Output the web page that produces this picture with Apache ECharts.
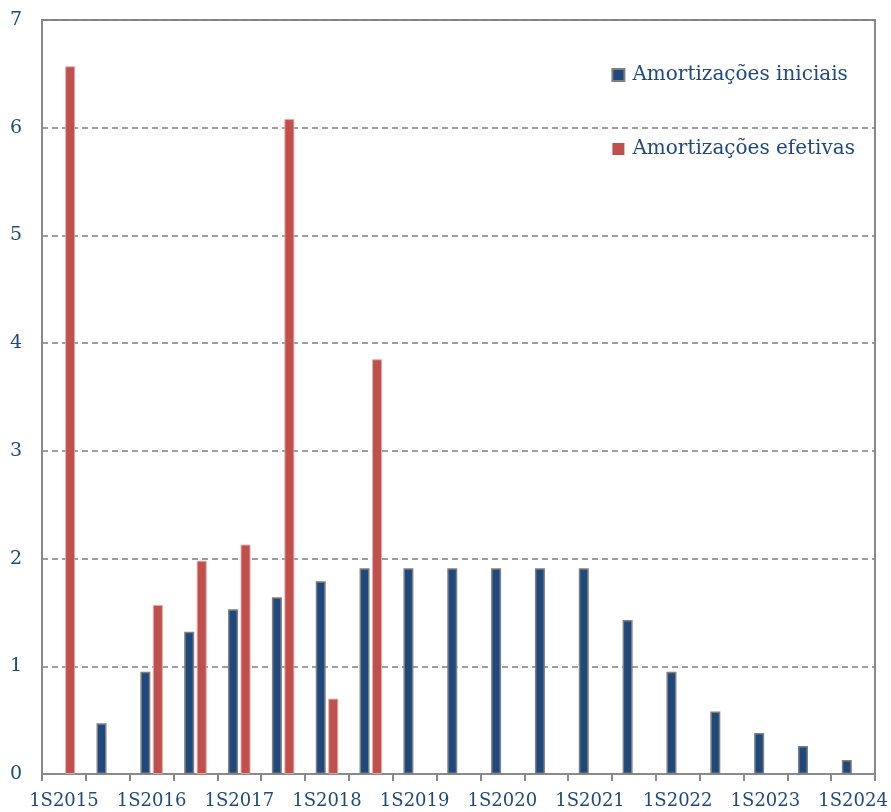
<!DOCTYPE html>
<html>
<head>
<meta charset="utf-8">
<script src="https://cdn.jsdelivr.net/npm/echarts@6/dist/echarts.min.js"></script>
<style>
  html, body { margin: 0; padding: 0; background: #fff; }
  #chart { width: 891px; height: 812px; }
</style>
</head>
<body>
<div id="chart"></div>
<script>
// Semesters 1S2015 .. 1S2024
const categories = [
  '1S2015', '2S2015', '1S2016', '2S2016', '1S2017', '2S2017', '1S2018', '2S2018',
  '1S2019', '2S2019', '1S2020', '2S2020', '1S2021', '2S2021', '1S2022', '2S2022',
  '1S2023', '2S2023', '1S2024'
];
const amortizacoesIniciais = [
  0, 0.47, 0.95, 1.32, 1.53, 1.64, 1.79, 1.91,
  1.91, 1.91, 1.91, 1.91, 1.91, 1.43, 0.95, 0.58,
  0.38, 0.26, 0.13
];
const amortizacoesEfetivas = [
  6.57, 0, 1.57, 1.98, 2.13, 6.08, 0.70, 3.85,
  0, 0, 0, 0, 0, 0, 0, 0,
  0, 0, 0
];
const yTicks = [0, 1, 2, 3, 4, 5, 6, 7];

const textColor = '#1F497D';
const fontFamily = '"DejaVu Serif", "Liberation Serif", serif';
const axisGray = '#8a8a8a';

// Empty semesters are left without a bar (no outline on the baseline)
const asBars = (values) => values.map(v => (v === 0 ? null : v));

const chart = echarts.init(document.getElementById('chart'), null, { renderer: 'canvas' });

chart.setOption({
  animation: false,
  backgroundColor: '#ffffff',
  grid: {
    left: 42, right: 16, top: 20, bottom: 38,
    show: true, borderColor: axisGray, borderWidth: 2,
    containLabel: false
  },
  legend: {
    orient: 'vertical',
    right: 31, top: 60,
    itemWidth: 12, itemHeight: 12,
    itemGap: 54,
    icon: 'rect',
    textStyle: { color: textColor, fontFamily: fontFamily, fontSize: 20, padding: [0, 0, 0, 3] },
    data: [
      { name: 'Amortizações iniciais', itemStyle: { color: '#1F497D', borderColor: '#7f7f7f', borderWidth: 2 } },
      { name: 'Amortizações efetivas', itemStyle: { color: '#C0504D', borderWidth: 0 } }
    ]
  },
  xAxis: {
    type: 'category',
    data: categories,
    boundaryGap: true,
    axisLine: { lineStyle: { color: axisGray, width: 2 } },
    axisTick: { show: true, interval: 0, length: 7, lineStyle: { color: axisGray, width: 2 } },
    axisLabel: {
      interval: 1,
      margin: 18,
      color: textColor, fontFamily: fontFamily, fontSize: 18
    },
    splitLine: { show: false }
  },
  yAxis: {
    type: 'value',
    min: yTicks[0],
    max: yTicks[yTicks.length - 1],
    interval: 1,
    axisLine: { show: true, lineStyle: { color: axisGray, width: 2 } },
    axisTick: { show: false },
    axisLabel: {
      margin: 20,
      color: textColor, fontFamily: fontFamily, fontSize: 19
    },
    splitLine: { show: true, lineStyle: { color: '#7f7f7f', width: 1.5, type: [6, 4] } }
  },
  series: [
    {
      name: 'Amortizações iniciais',
      type: 'bar',
      data: asBars(amortizacoesIniciais),
      barWidth: 10,
      barGap: '25%',
      itemStyle: { color: '#1F497D', borderColor: '#808080', borderWidth: 1.5 }
    },
    {
      name: 'Amortizações efetivas',
      type: 'bar',
      data: asBars(amortizacoesEfetivas),
      barWidth: 10,
      barGap: '25%',
      itemStyle: { color: '#C0504D', borderColor: 'rgba(232,170,168,0.9)', borderWidth: 1 }
    }
  ]
});
</script>
</body>
</html>
